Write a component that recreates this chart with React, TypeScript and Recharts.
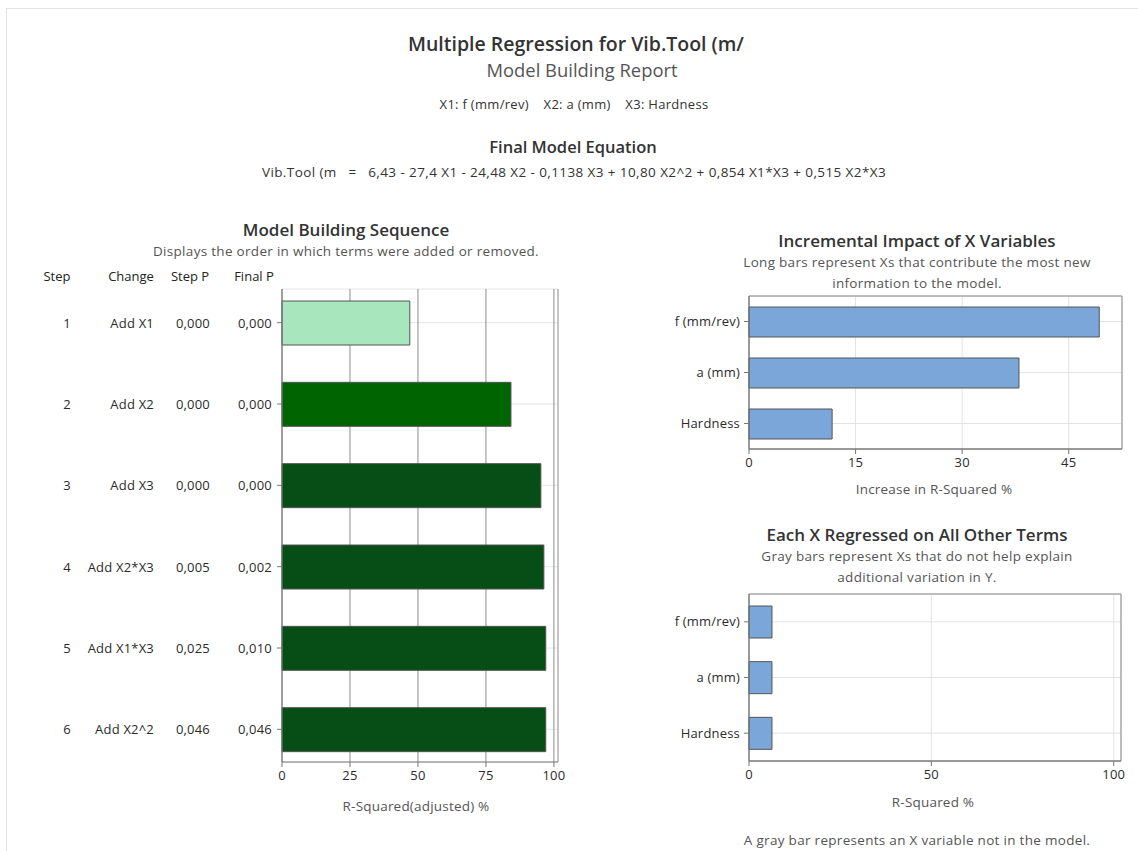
import React from 'react';
import { BarChart, Bar, XAxis, YAxis, CartesianGrid, Cell, ReferenceArea } from 'recharts';

const steps = [1, 2, 3, 4, 5, 6];
const changes = ['Add X1', 'Add X2', 'Add X3', 'Add X2*X3', 'Add X1*X3', 'Add X2^2'];
const stepP = ['0,000', '0,000', '0,000', '0,005', '0,025', '0,046'];
const finalP = ['0,000', '0,000', '0,000', '0,002', '0,010', '0,046'];
const rsqAdj = [47, 84.2, 95.2, 96.3, 97, 97];
const stepColors = ['#a8e6be', '#006400', '#064d16', '#064d16', '#064d16', '#064d16'];
const seqTicks = [0, 25, 50, 75, 100];

const variables = ['f (mm/rev)', 'a (mm)', 'Hardness'];
const rsqIncrease = [49.3, 38, 11.7];
const incTicks = [0, 15, 30, 45];
const rsqOthers = [6.3, 6.3, 6.3];
const othTicks = [0, 50, 100];

const FONT = '"Open Sans", "Noto Sans", sans-serif';
const TXT = '#2b2b2b';
const SUB = '#555';

const seqData = steps.map((s, i) => ({ step: s, value: rsqAdj[i] }));
const incData = variables.map((v, i) => ({ name: v, value: rsqIncrease[i] }));
const othData = variables.map((v, i) => ({ name: v, value: rsqOthers[i] }));

const T: React.FC<{ x: number; y: number; size?: number; color?: string; weight?: number; ls?: number; children: React.ReactNode }> = ({ x, y, size = 12, color = TXT, weight = 400, ls = 0, children }) => (
  <div style={{ position: 'absolute', left: x, top: y, transform: 'translate(-50%, -50%)', whiteSpace: 'pre', fontSize: size, color, fontWeight: weight, letterSpacing: ls, fontFamily: FONT }}>
    {children}
  </div>
);

const cellText = { fontSize: 13, fill: TXT, fontFamily: FONT, letterSpacing: 0.2 } as const;

// step table drawn alongside the Final P tick
const SeqTick = (props: any) => {
  const { x, y, payload } = props;
  const i = steps.indexOf(payload.value);
  return (
    <g>
      <text x={67} y={y} dy={5} textAnchor="middle" style={cellText}>{steps[i]}</text>
      <text x={154} y={y} dy={5} textAnchor="end" style={cellText}>{changes[i]}</text>
      <text x={210} y={y} dy={5} textAnchor="end" style={cellText}>{stepP[i]}</text>
      <text x={x} y={y} dy={5} textAnchor="end" style={cellText}>{finalP[i]}</text>
    </g>
  );
};

const tickStyle = { fill: TXT, fontSize: 13, fontFamily: FONT, letterSpacing: 0.2 };

export default function App() {
  return (
    <div style={{ position: 'absolute', left: 0, top: 0, width: 1138, height: 851, background: '#fff', fontFamily: FONT }}>
      <div style={{ position: 'absolute', left: 6, top: 8, width: 1132, height: 843, borderLeft: '1px solid #e3e3e3', borderTop: '1px solid #e3e3e3' }} />

      <T x={576} y={43} size={19.5} weight={600} color="#333">Multiple Regression for Vib.Tool (m/</T>
      <T x={582} y={69} size={18.4} color={SUB}>Model Building Report</T>
      <T x={574} y={104} size={13} ls={0.3} color="#333">{'X1: f (mm/rev)    X2: a (mm)    X3: Hardness'}</T>
      <T x={573} y={146} size={16.5} weight={600} color="#333">Final Model Equation</T>
      <T x={574} y={172} size={13.5} ls={0.4} color="#333">{'Vib.Tool (m   =   6,43 - 27,4 X1 - 24,48 X2 - 0,1138 X3 + 10,80 X2^2 + 0,854 X1*X3 + 0,515 X2*X3'}</T>

      <T x={346} y={229} size={17} weight={600} color="#333">Model Building Sequence</T>
      <T x={346} y={251} size={13.5} ls={0.3} color={SUB}>Displays the order in which terms were added or removed.</T>
      <T x={57} y={276} size={13} color="#222">Step</T>
      <T x={131} y={276} size={13} color="#222">Change</T>
      <T x={190} y={276} size={13} color="#222">Step P</T>
      <T x={254} y={276} size={13} color="#222">Final P</T>

      <div style={{ position: 'absolute', left: 0, top: 260 }}>
        <BarChart width={570} height={570} data={seqData} layout="vertical" margin={{ top: 29, right: 12, left: 0, bottom: 38 }}>
          <CartesianGrid vertical={false} stroke="#e6e6e6" />
          <CartesianGrid horizontal={false} stroke="#8c8c8c" />
          <XAxis type="number" domain={[0, 101.5]} ticks={seqTicks} tick={tickStyle} tickSize={5} tickMargin={4} stroke="#777" height={30} />
          <XAxis xAxisId="top" orientation="top" type="number" domain={[0, 101.5]} tick={false} tickLine={false} stroke="#777" height={0} />
          <YAxis type="category" dataKey="step" width={282} tick={<SeqTick />} tickSize={5} tickMargin={5} stroke="#777" padding={{ top: -7, bottom: -8 }} />
          <YAxis yAxisId="right" orientation="right" type="category" dataKey="step" tick={false} tickLine={false} stroke="#777" width={0} />
          <Bar dataKey="value" barSize={44} stroke="#555" strokeWidth={1} isAnimationActive={false}>
            {seqData.map((d, i) => (
              <Cell key={`s-${i}`} fill={stepColors[i]} />
            ))}
          </Bar>
        </BarChart>
      </div>
      <T x={416} y={806} size={13.5} ls={0.2} color={SUB}>R-Squared(adjusted) %</T>

      <T x={917} y={240} size={17} weight={600} color="#333">Incremental Impact of X Variables</T>
      <T x={917} y={262} size={13.5} ls={0.3} color={SUB}>Long bars represent Xs that contribute the most new</T>
      <T x={917} y={283} size={13.5} ls={0.3} color={SUB}>information to the model.</T>
      <div style={{ position: 'absolute', left: 650, top: 290 }}>
        <BarChart width={480} height={200} data={incData} layout="vertical" margin={{ top: 6, right: 8, left: 0, bottom: 11 }}>
          <CartesianGrid stroke="#e3e3e3" />
          <XAxis type="number" domain={[0, 52.5]} ticks={incTicks} tick={tickStyle} tickSize={5} tickMargin={4} stroke="#777" height={30} />
          <YAxis type="category" dataKey="name" width={99} tick={tickStyle} tickSize={5} tickMargin={4} stroke="#777" />
          <ReferenceArea x1={0} x2={52.5} fill="none" stroke="#888" strokeWidth={1} />
          <Bar dataKey="value" barSize={30} fill="#7ba6d9" stroke="#555" strokeWidth={1} isAnimationActive={false} />
        </BarChart>
      </div>
      <T x={934} y={489} size={13.5} ls={0.2} color={SUB}>Increase in R-Squared %</T>

      <T x={917} y={534} size={17} weight={600} color="#333">Each X Regressed on All Other Terms</T>
      <T x={917} y={556} size={13.5} ls={0.3} color={SUB}>Gray bars represent Xs that do not help explain</T>
      <T x={917} y={577} size={13.5} ls={0.3} color={SUB}>additional variation in Y.</T>
      <div style={{ position: 'absolute', left: 650, top: 590 }}>
        <BarChart width={480} height={205} data={othData} layout="vertical" margin={{ top: 4, right: 9, left: 0, bottom: 4 }}>
          <CartesianGrid stroke="#e3e3e3" />
          <XAxis type="number" domain={[0, 102]} ticks={othTicks} tick={tickStyle} tickSize={5} tickMargin={4} stroke="#777" height={30} />
          <YAxis type="category" dataKey="name" width={99} tick={tickStyle} tickSize={5} tickMargin={4} stroke="#777" />
          <ReferenceArea x1={0} x2={102} fill="none" stroke="#888" strokeWidth={1} />
          <Bar dataKey="value" barSize={32} fill="#7ba6d9" stroke="#555" strokeWidth={1} isAnimationActive={false} />
        </BarChart>
      </div>
      <T x={933} y={802} size={13.5} ls={0.2} color={SUB}>R-Squared %</T>
      <T x={917} y={840} size={13.5} ls={0.3} color={SUB}>A gray bar represents an X variable not in the model.</T>
    </div>
  );
}
